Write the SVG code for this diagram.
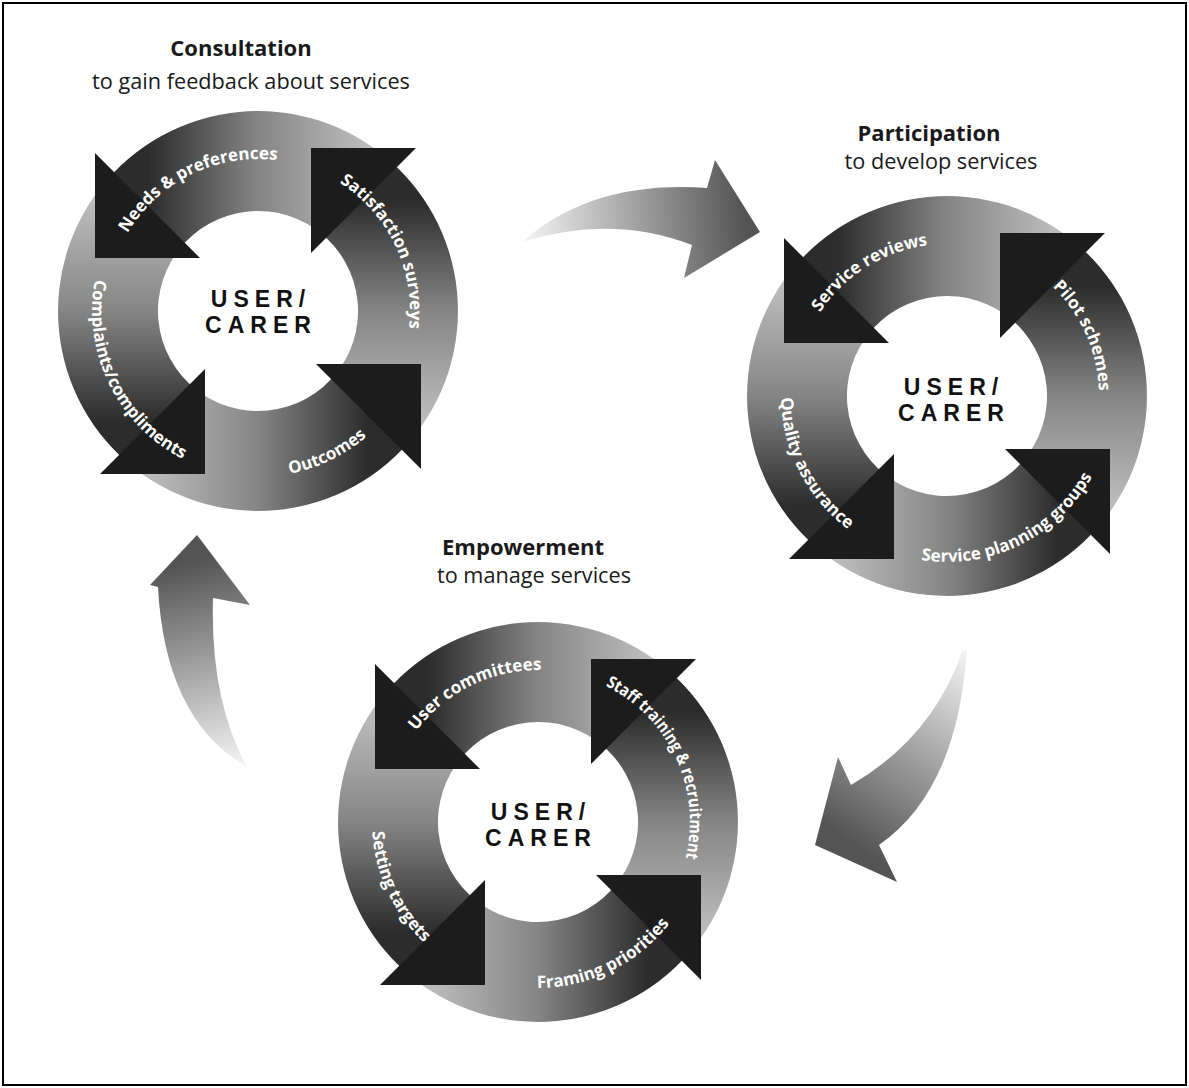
<svg xmlns="http://www.w3.org/2000/svg" xmlns:xlink="http://www.w3.org/1999/xlink" width="1189" height="1088" viewBox="0 0 1189 1088">
<style>
.title{font-family:"Open Sans","Liberation Sans",sans-serif;font-weight:700;font-size:22px;fill:#1a1a1a;text-anchor:middle}
.sub{font-family:"Open Sans","Liberation Sans",sans-serif;font-weight:400;font-size:21.7px;fill:#1a1a1a;text-anchor:middle}
.lbl{font-family:"Open Sans","Liberation Sans",sans-serif;font-weight:700;font-size:17px;fill:#fff}
.hub{font-family:"Liberation Sans",Arial,sans-serif;font-weight:700;font-size:23px;fill:#111;text-anchor:middle;letter-spacing:6px}
.head{fill:#1c1c1c}
</style>
<defs>
<linearGradient id="bodyGrad" gradientUnits="userSpaceOnUse" x1="106" y1="110" x2="106" y2="-110">
<stop offset="0" stop-color="#bdbdbd"/>
<stop offset="0.5" stop-color="#858585"/>
<stop offset="1" stop-color="#2c2c2c"/>
</linearGradient>
<linearGradient id="c1" gradientUnits="userSpaceOnUse" x1="522" y1="240" x2="745" y2="222">
<stop offset="0" stop-color="#f6f6f6"/>
<stop offset="0.55" stop-color="#9c9c9c"/>
<stop offset="1" stop-color="#545454"/>
</linearGradient>
<linearGradient id="c2" gradientUnits="userSpaceOnUse" x1="966" y1="648" x2="840" y2="835">
<stop offset="0" stop-color="#f6f6f6"/>
<stop offset="0.55" stop-color="#9c9c9c"/>
<stop offset="1" stop-color="#545454"/>
</linearGradient>
<linearGradient id="c3" gradientUnits="userSpaceOnUse" x1="247" y1="767" x2="200" y2="560">
<stop offset="0" stop-color="#f6f6f6"/>
<stop offset="0.55" stop-color="#9c9c9c"/>
<stop offset="1" stop-color="#545454"/>
</linearGradient>
<path id="body" d="M 150.9 131.2 A 200 200 0 0 0 123.1 -157.6 L 61.6 -78.8 A 100 100 0 0 1 75.5 65.6 Z" fill="url(#bodyGrad)"/>
<polygon id="head" class="head" points="158,-163 53,-163 53,-58"/>
<path id="cwArc" d="M -107.5 107.5 A 152 152 0 1 1 107.5 107.5"/>
<path id="ccwArc" d="M -117.4 -117.4 A 166 166 0 1 0 117.4 -117.4"/>
</defs>
<rect x="0" y="0" width="1189" height="1088" fill="#fff"/>
<rect x="3" y="3" width="1183" height="1082" fill="none" stroke="#000" stroke-width="2"/>

<g id="connectors">
<path d="M 522 242 Q 592 180 707 188 L 715 160 L 760 232 L 684 278 L 692 245 Q 612 214 522 242 Z" fill="url(#c1)"/>
<path d="M 967 648 Q 958 790 879 845 L 897 882 L 815 845 L 838 757 L 851 785 Q 932 738 962 652 Z" fill="url(#c2)"/>
<path d="M 247 767 Q 210 700 213 598 L 250 605 L 197 535 L 150 585 L 158 587 Q 165 720 247 767 Z" fill="url(#c3)"/>
</g>

<g id="consultation">
<text class="title" x="241" y="56">Consultation</text>
<text class="sub" x="251" y="89">to gain feedback about services</text>
<g transform="translate(258,311)">
<use xlink:href="#body"/>
<use xlink:href="#body" transform="rotate(-90)"/>
<use xlink:href="#body" transform="rotate(-180)"/>
<use xlink:href="#body" transform="rotate(-270)"/>
<use xlink:href="#head"/>
<use xlink:href="#head" transform="rotate(-90)"/>
<use xlink:href="#head" transform="rotate(-180)"/>
<use xlink:href="#head" transform="rotate(-270)"/>
<text class="lbl" transform="rotate(-26)"><textPath xlink:href="#cwArc" startOffset="50%" text-anchor="middle">Needs &amp; preferences</textPath></text>
<text class="lbl" transform="rotate(64.5)"><textPath xlink:href="#cwArc" startOffset="50%" text-anchor="middle">Satisfaction surveys</textPath></text>
<text class="lbl" transform="rotate(64)"><textPath xlink:href="#ccwArc" startOffset="50%" text-anchor="middle">Complaints/compliments</textPath></text>
<text class="lbl" transform="rotate(-26)"><textPath xlink:href="#ccwArc" startOffset="50%" text-anchor="middle">Outcomes</textPath></text>
<text class="hub"><tspan x="3" y="-4">USER/</tspan><tspan x="3" y="22">CARER</tspan></text>
</g>
</g>

<g id="participation">
<text class="title" x="929" y="141">Participation</text>
<text class="sub" x="941" y="169">to develop services</text>
<g transform="translate(947,396)">
<use xlink:href="#body"/>
<use xlink:href="#body" transform="rotate(-90)"/>
<use xlink:href="#body" transform="rotate(-180)"/>
<use xlink:href="#body" transform="rotate(-270)"/>
<use xlink:href="#head"/>
<use xlink:href="#head" transform="rotate(-90)"/>
<use xlink:href="#head" transform="rotate(-180)"/>
<use xlink:href="#head" transform="rotate(-270)"/>
<text class="lbl" transform="rotate(-32)"><textPath xlink:href="#cwArc" startOffset="50%" text-anchor="middle">Service reviews</textPath></text>
<text class="lbl" transform="rotate(66)"><textPath xlink:href="#cwArc" startOffset="50%" text-anchor="middle">Pilot schemes</textPath></text>
<text class="lbl" transform="rotate(63)"><textPath xlink:href="#ccwArc" startOffset="50%" text-anchor="middle">Quality assurance</textPath></text>
<text class="lbl" transform="rotate(-26)"><textPath xlink:href="#ccwArc" startOffset="50%" text-anchor="middle">Service planning groups</textPath></text>
<text class="hub"><tspan x="7" y="-1">USER/</tspan><tspan x="7" y="25">CARER</tspan></text>
</g>
</g>

<g id="empowerment">
<text class="title" x="523" y="555">Empowerment</text>
<text class="sub" x="534" y="583">to manage services</text>
<g transform="translate(538,822)">
<use xlink:href="#body"/>
<use xlink:href="#body" transform="rotate(-90)"/>
<use xlink:href="#body" transform="rotate(-180)"/>
<use xlink:href="#body" transform="rotate(-270)"/>
<use xlink:href="#head"/>
<use xlink:href="#head" transform="rotate(-90)"/>
<use xlink:href="#head" transform="rotate(-180)"/>
<use xlink:href="#head" transform="rotate(-270)"/>
<text class="lbl" transform="rotate(-26)"><textPath xlink:href="#cwArc" startOffset="50%" text-anchor="middle">User committees</textPath></text>
<text class="lbl" transform="rotate(65)" textLength="205" lengthAdjust="spacingAndGlyphs"><textPath xlink:href="#cwArc" startOffset="50%" text-anchor="middle">Staff training &amp; recruitment</textPath></text>
<text class="lbl" transform="rotate(65)"><textPath xlink:href="#ccwArc" startOffset="50%" text-anchor="middle">Setting targets</textPath></text>
<text class="lbl" transform="rotate(-26)"><textPath xlink:href="#ccwArc" startOffset="50%" text-anchor="middle">Framing priorities</textPath></text>
<text class="hub"><tspan x="3" y="-2">USER/</tspan><tspan x="3" y="24">CARER</tspan></text>
</g>
</g>
</svg>
